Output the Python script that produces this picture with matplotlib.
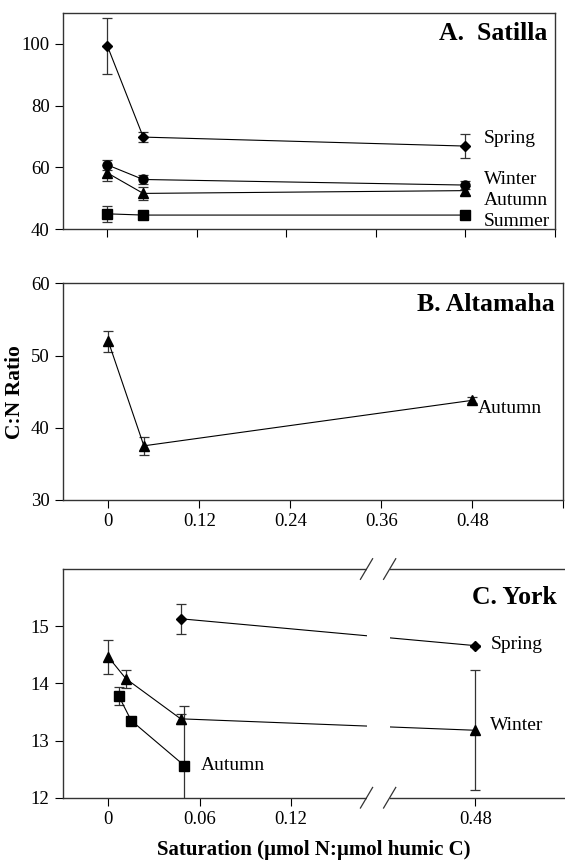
import matplotlib
matplotlib.use("Agg")
import matplotlib.pyplot as plt
from matplotlib.patches import Rectangle
import numpy as np

plt.rcParams['font.family'] = ['Liberation Serif', 'DejaVu Serif']
plt.rcParams['axes.linewidth'] = 1.0
plt.rcParams['xtick.direction'] = 'out'
plt.rcParams['ytick.direction'] = 'out'
plt.rcParams['xtick.major.size'] = 6
plt.rcParams['ytick.major.size'] = 6
plt.rcParams['xtick.labelsize'] = 13.5
plt.rcParams['ytick.labelsize'] = 13.5

# ---- A. Satilla ----
sat_x = [0, 0.048, 0.48]
sat_spring = [99.2, 69.8, 66.9]
sat_spring_err = [9.0, 1.7, 3.8]
sat_winter = [60.8, 56.1, 54.3]
sat_winter_err = [1.5, 1.6, 1.2]
sat_autumn = [58.2, 51.6, 52.5]
sat_autumn_err = [2.5, 2.1, 1.5]
sat_summer = [45.0, 44.6, 44.6]
sat_summer_err = [2.5, 1.0, 0.8]

# ---- B. Altamaha ----
alt_x = [0, 0.047, 0.48]
alt_autumn = [52.0, 37.5, 43.8]
alt_autumn_err = [1.45, 1.25, 0.4]

# ---- C. York ----
york_spring_x = [0.0475, 0.48]
york_spring = [15.13, 14.66]
york_spring_err = [0.26, 0.02]
york_winter_x = [0, 0.0116, 0.0475, 0.48]
york_winter = [14.46, 14.08, 13.38, 13.18]
york_winter_err = [0.30, 0.16, 0.09, 1.05]
york_autumn_x = [0.0068, 0.015, 0.050]
york_autumn = [13.78, 13.35, 12.56]
york_autumn_err = [0.15, 0.06, 1.05]

ab_ticks = [0, 0.12, 0.24, 0.36, 0.48, 0.60]
ab_ticklabels = ['0', '0.12', '0.24', '0.36', '0.48', '']
york_ticks = [0, 0.06, 0.12, 0.48]
york_ticklabels = ['0', '0.06', '0.12', '0.48']

# broken axis for York: skip the range between BRK and BRK + SHIFT
BRK = 0.19
SHIFT = 0.239


def fwd(x):
    x = np.asarray(x, dtype=float)
    return np.where(x <= BRK, x, np.where(x < BRK + SHIFT, BRK, x - SHIFT))


def inv(y):
    y = np.asarray(y, dtype=float)
    return np.where(y <= BRK, y, y + SHIFT)


def series(ax, x, y, err, marker, ms):
    ax.errorbar(x, y, yerr=err, fmt='-', marker=marker, ms=ms, color='black',
                lw=0.8, elinewidth=0.9, ecolor='#333333', capsize=3.5, capthick=0.9,
                zorder=2.2)


fig = plt.figure(figsize=(5.65, 8.64), dpi=100)
axA = fig.add_axes([0.111, 0.7346, 0.871, 0.2507])
axB = fig.add_axes([0.111, 0.4213, 0.886, 0.2508])
axC = fig.add_axes([0.111, 0.0767, 0.889, 0.2647])

for ax in (axA, axB, axC):
    for s in ax.spines.values():
        s.set_color('#333333')

# A
series(axA, sat_x, sat_spring, sat_spring_err, 'D', 5.5)
series(axA, sat_x, sat_winter, sat_winter_err, 'o', 6.5)
series(axA, sat_x, sat_autumn, sat_autumn_err, '^', 7.5)
series(axA, sat_x, sat_summer, sat_summer_err, 's', 6.5)
axA.set_xlim(-0.06, 0.60)
axA.set_ylim(40, 110)
axA.set_yticks([40, 60, 80, 100])
axA.set_xticks(ab_ticks)
axA.set_xticklabels([])
axA.text(0.505, 69.5, 'Spring', fontsize=14, va='center')
axA.text(0.505, 56.1, 'Winter', fontsize=14, va='center')
axA.text(0.505, 49.2, 'Autumn', fontsize=14, va='center')
axA.text(0.505, 42.6, 'Summer', fontsize=14, va='center')
axA.text(0.985, 0.905, 'A.  Satilla', transform=axA.transAxes, ha='right',
         va='center', fontsize=18.5, fontweight='bold')

# B
series(axB, alt_x, alt_autumn, alt_autumn_err, '^', 7.5)
axB.set_xlim(-0.06, 0.60)
axB.set_ylim(30, 60)
axB.set_yticks([30, 40, 50, 60])
axB.set_xticks(ab_ticks)
axB.set_xticklabels(ab_ticklabels)
axB.text(0.487, 42.6, 'Autumn', fontsize=14, va='center')
axB.text(0.982, 0.90, 'B. Altamaha', transform=axB.transAxes, ha='right',
         va='center', fontsize=18.5, fontweight='bold')
axB.set_ylabel('C:N Ratio', fontsize=15.5, fontweight='bold', labelpad=4)

# C (broken x axis)
axC.set_xscale('function', functions=(fwd, inv))
series(axC, york_spring_x, york_spring, york_spring_err, 'D', 5.5)
series(axC, york_winter_x, york_winter, york_winter_err, '^', 7.5)
series(axC, york_autumn_x, york_autumn, york_autumn_err, 's', 6.5)
axC.set_xlim(-0.03, 0.30 + SHIFT)
axC.set_ylim(12, 16)
axC.set_yticks([12, 13, 14, 15])
axC.set_xticks(york_ticks)
axC.set_xticklabels(york_ticklabels)
axC.xaxis.set_minor_locator(matplotlib.ticker.NullLocator())
axC.spines['right'].set_visible(False)
axC.text(0.49, 14.68, 'Spring', fontsize=14, va='center')
axC.text(0.49, 13.26, 'Winter', fontsize=14, va='center')
axC.text(0.061, 12.57, 'Autumn', fontsize=14, va='center')
axC.text(0.983, 0.875, 'C. York', transform=axC.transAxes, ha='right',
         va='center', fontsize=18.5, fontweight='bold')
axC.set_xlabel('Saturation (µmol N:µmol humic C)', fontsize=15,
               fontweight='bold', labelpad=9)

# gap and break marks
b1, b2 = 0.1696, 0.1848
trans = axC.get_xaxis_transform()
axC.add_patch(Rectangle((b1, -0.05), b2 - b1, 1.1, transform=trans,
                        facecolor='white', edgecolor='none', clip_on=False, zorder=3))
dx, dy = 0.004, 0.045
for c in (b1, b2):
    for y0 in (0, 1):
        axC.plot([c - dx, c + dx], [y0 - dy, y0 + dy], transform=trans,
                 color='#333333', lw=0.9, clip_on=False, zorder=4)

fig.savefig('out.png', dpi=100)
